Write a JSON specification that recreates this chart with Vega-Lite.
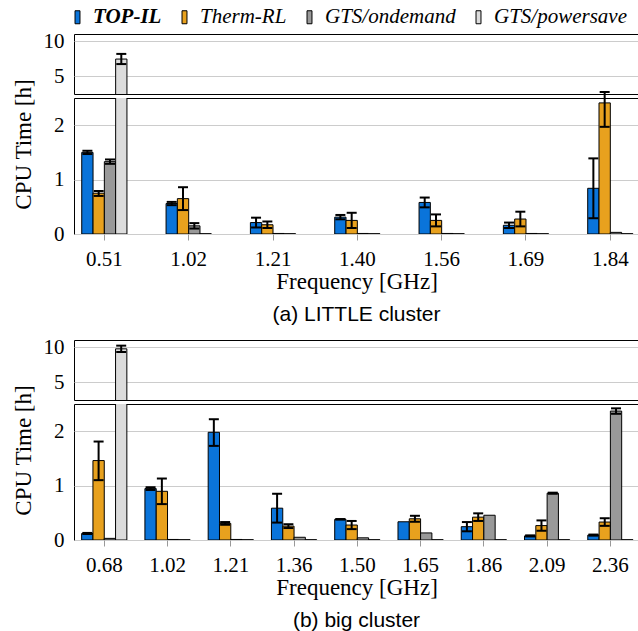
{
  "$schema": "https://vega.github.io/schema/vega-lite/v6.json",
  "padding": {"left": 11, "top": 6, "right": 0, "bottom": 0},
  "datasets": {
    "d": [
      {"c": "a", "f": "0.51", "p": "TOP-IL", "v": 1.50, "lo": 1.47, "hi": 1.53},
      {"c": "a", "f": "0.51", "p": "Therm-RL", "v": 0.75, "lo": 0.70, "hi": 0.79},
      {"c": "a", "f": "0.51", "p": "GTS/ondemand", "v": 1.33, "lo": 1.29, "hi": 1.37},
      {"c": "a", "f": "0.51", "p": "GTS/powersave", "v": 7.45, "lo": 6.74, "hi": 8.18},
      {"c": "a", "f": "1.02", "p": "TOP-IL", "v": 0.56, "lo": 0.53, "hi": 0.59},
      {"c": "a", "f": "1.02", "p": "Therm-RL", "v": 0.65, "lo": 0.44, "hi": 0.86},
      {"c": "a", "f": "1.02", "p": "GTS/ondemand", "v": 0.15, "lo": 0.10, "hi": 0.20},
      {"c": "a", "f": "1.02", "p": "GTS/powersave", "v": 0.005, "lo": null, "hi": null},
      {"c": "a", "f": "1.21", "p": "TOP-IL", "v": 0.21, "lo": 0.12, "hi": 0.30},
      {"c": "a", "f": "1.21", "p": "Therm-RL", "v": 0.17, "lo": 0.11, "hi": 0.23},
      {"c": "a", "f": "1.21", "p": "GTS/ondemand", "v": 0.01, "lo": null, "hi": null},
      {"c": "a", "f": "1.21", "p": "GTS/powersave", "v": 0.005, "lo": null, "hi": null},
      {"c": "a", "f": "1.40", "p": "TOP-IL", "v": 0.31, "lo": 0.27, "hi": 0.35},
      {"c": "a", "f": "1.40", "p": "Therm-RL", "v": 0.25, "lo": 0.11, "hi": 0.39},
      {"c": "a", "f": "1.40", "p": "GTS/ondemand", "v": 0.01, "lo": null, "hi": null},
      {"c": "a", "f": "1.40", "p": "GTS/powersave", "v": 0.005, "lo": null, "hi": null},
      {"c": "a", "f": "1.56", "p": "TOP-IL", "v": 0.58, "lo": 0.49, "hi": 0.67},
      {"c": "a", "f": "1.56", "p": "Therm-RL", "v": 0.25, "lo": 0.14, "hi": 0.36},
      {"c": "a", "f": "1.56", "p": "GTS/ondemand", "v": 0.01, "lo": null, "hi": null},
      {"c": "a", "f": "1.56", "p": "GTS/powersave", "v": 0.005, "lo": null, "hi": null},
      {"c": "a", "f": "1.69", "p": "TOP-IL", "v": 0.16, "lo": 0.11, "hi": 0.21},
      {"c": "a", "f": "1.69", "p": "Therm-RL", "v": 0.275, "lo": 0.14, "hi": 0.41},
      {"c": "a", "f": "1.69", "p": "GTS/ondemand", "v": 0.01, "lo": null, "hi": null},
      {"c": "a", "f": "1.69", "p": "GTS/powersave", "v": 0.005, "lo": null, "hi": null},
      {"c": "a", "f": "1.84", "p": "TOP-IL", "v": 0.84, "lo": 0.29, "hi": 1.39},
      {"c": "a", "f": "1.84", "p": "Therm-RL", "v": 2.41, "lo": 1.97, "hi": 2.61},
      {"c": "a", "f": "1.84", "p": "GTS/ondemand", "v": 0.03, "lo": null, "hi": null},
      {"c": "a", "f": "1.84", "p": "GTS/powersave", "v": 0.005, "lo": null, "hi": null},
      {"c": "b", "f": "0.68", "p": "TOP-IL", "v": 0.12, "lo": 0.11, "hi": 0.13},
      {"c": "b", "f": "0.68", "p": "Therm-RL", "v": 1.46, "lo": 1.10, "hi": 1.81},
      {"c": "b", "f": "0.68", "p": "GTS/ondemand", "v": 0.03, "lo": null, "hi": null},
      {"c": "b", "f": "0.68", "p": "GTS/powersave", "v": 9.75, "lo": 9.30, "hi": 10.20},
      {"c": "b", "f": "1.02", "p": "TOP-IL", "v": 0.945, "lo": 0.92, "hi": 0.97},
      {"c": "b", "f": "1.02", "p": "Therm-RL", "v": 0.895, "lo": 0.66, "hi": 1.13},
      {"c": "b", "f": "1.02", "p": "GTS/ondemand", "v": 0.01, "lo": null, "hi": null},
      {"c": "b", "f": "1.02", "p": "GTS/powersave", "v": 0.005, "lo": null, "hi": null},
      {"c": "b", "f": "1.21", "p": "TOP-IL", "v": 1.98, "lo": 1.73, "hi": 2.22},
      {"c": "b", "f": "1.21", "p": "Therm-RL", "v": 0.305, "lo": 0.28, "hi": 0.33},
      {"c": "b", "f": "1.21", "p": "GTS/ondemand", "v": 0.01, "lo": null, "hi": null},
      {"c": "b", "f": "1.21", "p": "GTS/powersave", "v": 0.005, "lo": null, "hi": null},
      {"c": "b", "f": "1.36", "p": "TOP-IL", "v": 0.585, "lo": 0.32, "hi": 0.85},
      {"c": "b", "f": "1.36", "p": "Therm-RL", "v": 0.255, "lo": 0.22, "hi": 0.29},
      {"c": "b", "f": "1.36", "p": "GTS/ondemand", "v": 0.05, "lo": null, "hi": null},
      {"c": "b", "f": "1.36", "p": "GTS/powersave", "v": 0.005, "lo": null, "hi": null},
      {"c": "b", "f": "1.50", "p": "TOP-IL", "v": 0.38, "lo": 0.375, "hi": 0.385},
      {"c": "b", "f": "1.50", "p": "Therm-RL", "v": 0.275, "lo": 0.20, "hi": 0.35},
      {"c": "b", "f": "1.50", "p": "GTS/ondemand", "v": 0.04, "lo": null, "hi": null},
      {"c": "b", "f": "1.50", "p": "GTS/powersave", "v": 0.005, "lo": null, "hi": null},
      {"c": "b", "f": "1.65", "p": "TOP-IL", "v": 0.335, "lo": null, "hi": null},
      {"c": "b", "f": "1.65", "p": "Therm-RL", "v": 0.39, "lo": 0.335, "hi": 0.445},
      {"c": "b", "f": "1.65", "p": "GTS/ondemand", "v": 0.13, "lo": null, "hi": null},
      {"c": "b", "f": "1.65", "p": "GTS/powersave", "v": 0.005, "lo": null, "hi": null},
      {"c": "b", "f": "1.86", "p": "TOP-IL", "v": 0.245, "lo": 0.16, "hi": 0.33},
      {"c": "b", "f": "1.86", "p": "Therm-RL", "v": 0.42, "lo": 0.35, "hi": 0.49},
      {"c": "b", "f": "1.86", "p": "GTS/ondemand", "v": 0.455, "lo": null, "hi": null},
      {"c": "b", "f": "1.86", "p": "GTS/powersave", "v": 0.005, "lo": null, "hi": null},
      {"c": "b", "f": "2.09", "p": "TOP-IL", "v": 0.075, "lo": 0.065, "hi": 0.085},
      {"c": "b", "f": "2.09", "p": "Therm-RL", "v": 0.265, "lo": 0.17, "hi": 0.36},
      {"c": "b", "f": "2.09", "p": "GTS/ondemand", "v": 0.86, "lo": 0.85, "hi": 0.87},
      {"c": "b", "f": "2.09", "p": "GTS/powersave", "v": 0.005, "lo": null, "hi": null},
      {"c": "b", "f": "2.36", "p": "TOP-IL", "v": 0.09, "lo": 0.08, "hi": 0.10},
      {"c": "b", "f": "2.36", "p": "Therm-RL", "v": 0.33, "lo": 0.26, "hi": 0.40},
      {"c": "b", "f": "2.36", "p": "GTS/ondemand", "v": 2.37, "lo": 2.32, "hi": 2.42},
      {"c": "b", "f": "2.36", "p": "GTS/powersave", "v": 0.005, "lo": null, "hi": null}
    ]
  },
  "data": {"name": "d"},
  "spacing": 9,
  "vconcat": [
    {
      "bounds": "flush",
      "spacing": 4,
      "vconcat": [
        {
          "width": 565, "height": 60,
          "transform": [{"filter": "datum.c == 'a'"}],
          "encoding": {
            "x": {"field": "f", "type": "nominal", "scale": {"domain": ["0.51","1.02","1.21","1.40","1.56","1.69","1.84"], "paddingInner": 0.464, "paddingOuter": 0.082, "align": 0.56}, "axis": null},
            "xOffset": {"field": "p", "type": "nominal", "scale": {"domain": ["TOP-IL","Therm-RL","GTS/ondemand","GTS/powersave"], "paddingInner": 0, "paddingOuter": 0}}
          },
          "layer": [
            {"mark": {"type": "bar", "clip": true, "stroke": "black", "strokeWidth": 1, "opacity": 1},
             "encoding": {
               "y": {"field": "v", "type": "quantitative", "scale": {"domain": [2.5, 11], "nice": false, "zero": false}, "axis": {"values": [5, 10], "format": "d", "title": null}},
               "color": {"field": "p", "type": "nominal", "scale": {"domain": ["TOP-IL","Therm-RL","GTS/ondemand","GTS/powersave"], "range": ["#0A74DA","#E8A11E","#999999","#DCDCDC"]}, "legend": {"title": null}}
             }},
            {"transform": [{"filter": "datum.v >= 2.5 && isValid(datum.lo)"}],
             "mark": {"type": "rule", "color": "black", "strokeWidth": 2, "opacity": 1},
             "encoding": {"y": {"field": "lo", "type": "quantitative"}, "y2": {"field": "hi"}}},
            {"transform": [{"filter": "datum.v >= 2.5 && isValid(datum.lo)"}],
             "mark": {"type": "tick", "orient": "horizontal", "color": "black", "size": 10, "thickness": 2, "opacity": 1},
             "encoding": {"y": {"field": "lo", "type": "quantitative"}}},
            {"transform": [{"filter": "datum.v >= 2.5 && isValid(datum.lo)"}],
             "mark": {"type": "tick", "orient": "horizontal", "color": "black", "size": 10, "thickness": 2, "opacity": 1},
             "encoding": {"y": {"field": "hi", "type": "quantitative"}}}
          ]
        },
        {
          "width": 565, "height": 136,
          "title": {"text": "(a) LITTLE cluster", "orient": "bottom", "anchor": "middle", "frame": "group", "font": "Liberation Sans", "fontSize": 21, "fontWeight": "normal", "offset": 11, "color": "black"},
          "transform": [{"filter": "datum.c == 'a'"}],
          "encoding": {
            "x": {"field": "f", "type": "nominal", "scale": {"domain": ["0.51","1.02","1.21","1.40","1.56","1.69","1.84"], "paddingInner": 0.464, "paddingOuter": 0.082, "align": 0.56}, "axis": {"title": "Frequency [GHz]"}},
            "xOffset": {"field": "p", "type": "nominal", "scale": {"domain": ["TOP-IL","Therm-RL","GTS/ondemand","GTS/powersave"], "paddingInner": 0, "paddingOuter": 0}}
          },
          "layer": [
            {"mark": {"type": "bar", "clip": true, "stroke": "black", "strokeWidth": 1, "opacity": 1},
             "encoding": {
               "y": {"field": "v", "type": "quantitative", "scale": {"domain": [0, 2.5], "nice": false}, "axis": {"values": [0, 1, 2], "format": "d", "title": "CPU Time [h]", "titleY": 46}},
               "color": {"field": "p", "type": "nominal", "scale": {"domain": ["TOP-IL","Therm-RL","GTS/ondemand","GTS/powersave"], "range": ["#0A74DA","#E8A11E","#999999","#DCDCDC"]}, "legend": {"title": null}}
             }},
            {"transform": [{"filter": "datum.v < 2.5 && isValid(datum.lo)"}],
             "mark": {"type": "rule", "color": "black", "strokeWidth": 2, "opacity": 1},
             "encoding": {"y": {"field": "lo", "type": "quantitative"}, "y2": {"field": "hi"}}},
            {"transform": [{"filter": "datum.v < 2.5 && isValid(datum.lo)"}],
             "mark": {"type": "tick", "orient": "horizontal", "color": "black", "size": 10, "thickness": 2, "opacity": 1},
             "encoding": {"y": {"field": "lo", "type": "quantitative"}}},
            {"transform": [{"filter": "datum.v < 2.5 && isValid(datum.lo)"}],
             "mark": {"type": "tick", "orient": "horizontal", "color": "black", "size": 10, "thickness": 2, "opacity": 1},
             "encoding": {"y": {"field": "hi", "type": "quantitative"}}}
          ]
        }
      ]
    },
    {
      "bounds": "flush",
      "spacing": 4,
      "vconcat": [
        {
          "width": 565, "height": 60,
          "transform": [{"filter": "datum.c == 'b'"}],
          "encoding": {
            "x": {"field": "f", "type": "nominal", "scale": {"domain": ["0.68","1.02","1.21","1.36","1.50","1.65","1.86","2.09","2.36"], "paddingInner": 0.2855, "paddingOuter": 0.108, "align": 0.56}, "axis": null},
            "xOffset": {"field": "p", "type": "nominal", "scale": {"domain": ["TOP-IL","Therm-RL","GTS/ondemand","GTS/powersave"], "paddingInner": 0, "paddingOuter": 0}}
          },
          "layer": [
            {"mark": {"type": "bar", "clip": true, "stroke": "black", "strokeWidth": 1, "opacity": 1},
             "encoding": {
               "y": {"field": "v", "type": "quantitative", "scale": {"domain": [2.5, 11], "nice": false, "zero": false}, "axis": {"values": [5, 10], "format": "d", "title": null}},
               "color": {"field": "p", "type": "nominal", "scale": {"domain": ["TOP-IL","Therm-RL","GTS/ondemand","GTS/powersave"], "range": ["#0A74DA","#E8A11E","#999999","#DCDCDC"]}, "legend": {"title": null}}
             }},
            {"transform": [{"filter": "datum.v >= 2.5 && isValid(datum.lo)"}],
             "mark": {"type": "rule", "color": "black", "strokeWidth": 2, "opacity": 1},
             "encoding": {"y": {"field": "lo", "type": "quantitative"}, "y2": {"field": "hi"}}},
            {"transform": [{"filter": "datum.v >= 2.5 && isValid(datum.lo)"}],
             "mark": {"type": "tick", "orient": "horizontal", "color": "black", "size": 10, "thickness": 2, "opacity": 1},
             "encoding": {"y": {"field": "lo", "type": "quantitative"}}},
            {"transform": [{"filter": "datum.v >= 2.5 && isValid(datum.lo)"}],
             "mark": {"type": "tick", "orient": "horizontal", "color": "black", "size": 10, "thickness": 2, "opacity": 1},
             "encoding": {"y": {"field": "hi", "type": "quantitative"}}}
          ]
        },
        {
          "width": 565, "height": 136,
          "title": {"text": "(b) big cluster", "orient": "bottom", "anchor": "middle", "frame": "group", "font": "Liberation Sans", "fontSize": 21, "fontWeight": "normal", "offset": 11, "color": "black"},
          "transform": [{"filter": "datum.c == 'b'"}],
          "encoding": {
            "x": {"field": "f", "type": "nominal", "scale": {"domain": ["0.68","1.02","1.21","1.36","1.50","1.65","1.86","2.09","2.36"], "paddingInner": 0.2855, "paddingOuter": 0.108, "align": 0.56}, "axis": {"title": "Frequency [GHz]"}},
            "xOffset": {"field": "p", "type": "nominal", "scale": {"domain": ["TOP-IL","Therm-RL","GTS/ondemand","GTS/powersave"], "paddingInner": 0, "paddingOuter": 0}}
          },
          "layer": [
            {"mark": {"type": "bar", "clip": true, "stroke": "black", "strokeWidth": 1, "opacity": 1},
             "encoding": {
               "y": {"field": "v", "type": "quantitative", "scale": {"domain": [0, 2.5], "nice": false}, "axis": {"values": [0, 1, 2], "format": "d", "title": "CPU Time [h]", "titleY": 46}},
               "color": {"field": "p", "type": "nominal", "scale": {"domain": ["TOP-IL","Therm-RL","GTS/ondemand","GTS/powersave"], "range": ["#0A74DA","#E8A11E","#999999","#DCDCDC"]}, "legend": {"title": null}}
             }},
            {"transform": [{"filter": "datum.v < 2.5 && isValid(datum.lo)"}],
             "mark": {"type": "rule", "color": "black", "strokeWidth": 2, "opacity": 1},
             "encoding": {"y": {"field": "lo", "type": "quantitative"}, "y2": {"field": "hi"}}},
            {"transform": [{"filter": "datum.v < 2.5 && isValid(datum.lo)"}],
             "mark": {"type": "tick", "orient": "horizontal", "color": "black", "size": 10, "thickness": 2, "opacity": 1},
             "encoding": {"y": {"field": "lo", "type": "quantitative"}}},
            {"transform": [{"filter": "datum.v < 2.5 && isValid(datum.lo)"}],
             "mark": {"type": "tick", "orient": "horizontal", "color": "black", "size": 10, "thickness": 2, "opacity": 1},
             "encoding": {"y": {"field": "hi", "type": "quantitative"}}}
          ]
        }
      ]
    }
  ],
  "config": {
    "font": "Liberation Serif",
    "view": {"stroke": "black", "strokeWidth": 1},
    "axis": {"labelFont": "Liberation Serif", "labelFontSize": 21, "labelColor": "black", "titleFont": "Liberation Serif", "titleFontSize": 23, "titleFontWeight": "normal", "titleColor": "black", "gridColor": "#cccccc", "domain": false},
    "axisY": {"ticks": false, "labelPadding": 10, "minExtent": 31, "maxExtent": 31, "titlePadding": 8},
    "axisX": {"tickColor": "#999999", "tickSize": 6, "labelPadding": 8, "grid": false, "labelAngle": 0, "titlePadding": 1},
    "legend": {
      "orient": "none", "legendX": -7, "legendY": -27.5, "direction": "horizontal", "columns": 4, "columnPadding": 12,
      "symbolType": "M-0.38,-1H0.38V1H-0.38Z", "symbolSize": 169, "symbolStrokeColor": "black", "symbolStrokeWidth": 1, "symbolOpacity": 1,
      "labelFont": "Liberation Serif", "labelFontSize": 21, "labelFontStyle": "italic", "labelColor": "black", "labelOffset": 5,
      "labelFontWeight": {"expr": "datum.label == 'TOP-IL' ? 'bold' : 'normal'"}
    }
  }
}
